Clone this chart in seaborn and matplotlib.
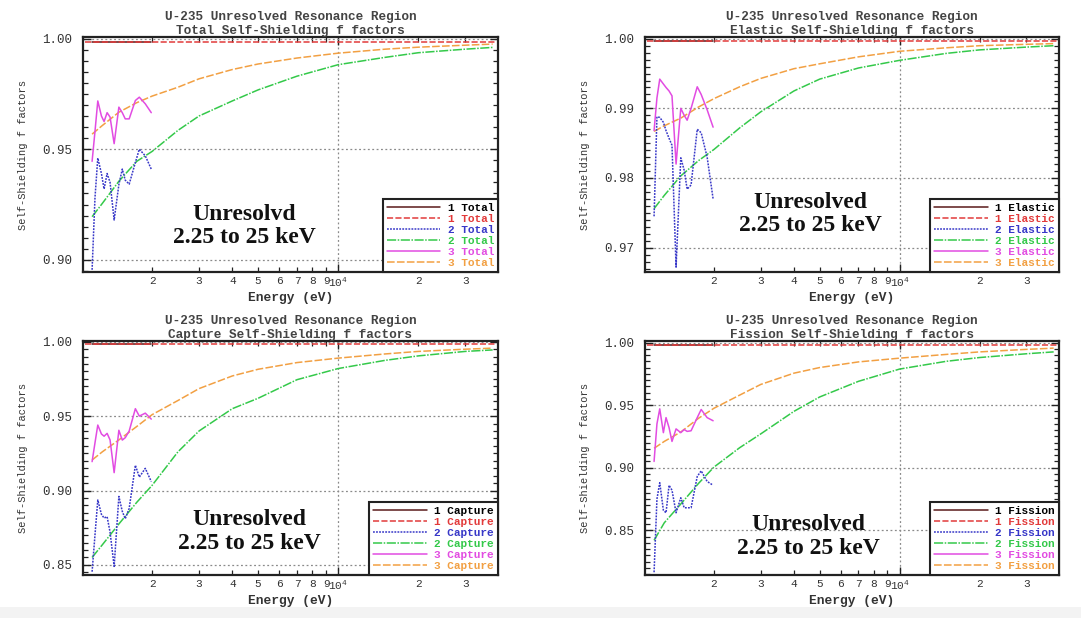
import matplotlib
matplotlib.use("Agg")
import matplotlib.pyplot as plt
import seaborn as sns
import numpy as np
from matplotlib.ticker import FixedLocator, MultipleLocator, FuncFormatter, FormatStrFormatter
from matplotlib.patches import Rectangle

# ---------------- data ----------------
E_RES = [1190, 1220, 1250, 1290, 1320, 1355, 1390, 1440, 1500, 1545, 1585, 1640, 1730, 1790, 1885, 1985]
E_SMOOTH = [1190, 1300, 1500, 1750, 2000, 2500, 3000, 4000, 5000, 7000, 10000, 15000, 20000, 30000, 38000]
E_FLAT = [1120, 39000]
E_BLACK = [1190, 1985]

# Total
total_1 = [0.9984, 0.9984]
total_2_res = [0.8955, 0.928, 0.946, 0.939, 0.932, 0.939, 0.935, 0.918, 0.934, 0.941, 0.936, 0.9342, 0.944, 0.950, 0.947, 0.941]
total_3_res = [0.9445, 0.958, 0.9718, 0.9650, 0.9625, 0.9665, 0.9645, 0.9525, 0.9690, 0.9665, 0.9637, 0.9637, 0.9720, 0.9735, 0.9705, 0.9665]
total_2_smooth = [0.9195, 0.9255, 0.9355, 0.9445, 0.949, 0.9585, 0.965, 0.9718, 0.9768, 0.9830, 0.9882, 0.9915, 0.9936, 0.9952, 0.9960]
total_3_smooth = [0.9568, 0.9607, 0.9667, 0.971, 0.974, 0.978, 0.9818, 0.986, 0.9885, 0.9912, 0.9934, 0.9952, 0.9961, 0.9970, 0.9975]

# Elastic
elastic_1 = [0.9997, 0.9997]
elastic_2_res = [0.9745, 0.9888, 0.9887, 0.9880, 0.9868, 0.9857, 0.9847, 0.9672, 0.9829, 0.9811, 0.9784, 0.9790, 0.9870, 0.9865, 0.9830, 0.9770]
elastic_3_res = [0.9868, 0.9915, 0.9942, 0.9935, 0.9930, 0.9925, 0.9918, 0.9820, 0.9900, 0.9890, 0.9883, 0.9900, 0.9931, 0.9920, 0.9898, 0.9873]
elastic_2_smooth = [0.9756, 0.9775, 0.9803, 0.9825, 0.9841, 0.9872, 0.9895, 0.9925, 0.9942, 0.9958, 0.9969, 0.9979, 0.9984, 0.9988, 0.9990]
elastic_3_smooth = [0.9867, 0.9875, 0.9886, 0.9902, 0.9914, 0.9931, 0.9943, 0.9957, 0.9964, 0.9974, 0.9982, 0.9987, 0.9990, 0.9992, 0.9993]

# Capture
capture_1 = [0.9983, 0.9983]
capture_2_res = [0.8454, 0.870, 0.8936, 0.884, 0.8815, 0.8824, 0.872, 0.849, 0.896, 0.886, 0.881, 0.888, 0.917, 0.909, 0.9149, 0.906]
capture_3_res = [0.9194, 0.932, 0.944, 0.938, 0.9365, 0.9384, 0.934, 0.912, 0.9405, 0.9339, 0.9355, 0.940, 0.955, 0.950, 0.952, 0.948]
capture_2_smooth = [0.855, 0.8635, 0.8775, 0.892, 0.9035, 0.926, 0.940, 0.955, 0.962, 0.9745, 0.982, 0.9875, 0.9905, 0.9935, 0.9945]
capture_3_smooth = [0.9205, 0.926, 0.934, 0.943, 0.951, 0.9605, 0.9685, 0.977, 0.9815, 0.986, 0.989, 0.9918, 0.9935, 0.9950, 0.9957]

# Fission
fission_1 = [0.998, 0.998]
fission_2_res = [0.8165, 0.875, 0.888, 0.866, 0.864, 0.886, 0.882, 0.864, 0.876, 0.868, 0.868, 0.868, 0.893, 0.8975, 0.889, 0.886]
fission_3_res = [0.905, 0.935, 0.947, 0.928, 0.940, 0.932, 0.921, 0.931, 0.928, 0.9305, 0.929, 0.9295, 0.940, 0.9465, 0.940, 0.9375]
fission_2_smooth = [0.842, 0.856, 0.871, 0.8875, 0.9005, 0.916, 0.927, 0.945, 0.9565, 0.969, 0.9788, 0.985, 0.988, 0.991, 0.9925]
fission_3_smooth = [0.9155, 0.921, 0.9285, 0.9395, 0.9475, 0.958, 0.9665, 0.9755, 0.980, 0.9845, 0.9875, 0.9905, 0.9925, 0.9945, 0.9955]

REACTIONS = ["Total", "Elastic", "Capture", "Fission"]
ANNOTATIONS = ["Unresolvd\n2.25 to 25 keV", "Unresolved\n2.25 to 25 keV",
               "Unresolved\n2.25 to 25 keV", "Unresolved\n2.25 to 25 keV"]
X_MINOR_LABELED = [2000, 3000, 4000, 5000, 6000, 7000, 8000, 9000, 20000, 30000]
X_MAJOR = [10000]

# ---------------- style ----------------
sns.set_theme(style="white")
MONO = ["Liberation Mono", "DejaVu Sans Mono"]
plt.rcParams["font.family"] = MONO
plt.rcParams["mathtext.default"] = "regular"

C_BLACK = "#000000"
C_RED = "#e23a3a"
C_BLUE = "#3838c8"
C_GREEN = "#34c94a"
C_MAG = "#e24ce2"
C_ORANGE = "#f2a043"

fig = plt.figure(figsize=(10.81, 6.18), dpi=100)
fig.patches.append(Rectangle((0, 0), 1, 11 / 618, transform=fig.transFigure,
                             facecolor="#f3f3f3", edgecolor="none", zorder=-10))

W, H = 1081, 618
rects = [
    [83 / W, 1 - 272 / H, 415 / W, 235 / H],
    [645 / W, 1 - 272 / H, 414 / W, 235 / H],
    [83 / W, 1 - 575 / H, 415 / W, 234 / H],
    [645 / W, 1 - 575 / H, 414 / W, 234 / H],
]
ylims = [(0.8945, 1.0007), (0.9665, 1.00025), (0.8432, 1.0005), (0.8143, 1.0012)]
ymajors = [[0.90, 0.95, 1.00], [0.97, 0.98, 0.99, 1.00], [0.85, 0.90, 0.95, 1.00], [0.85, 0.90, 0.95, 1.00]]
yminor_steps = [0.005, 0.001, 0.005, 0.005]
ann_pos = [(0.388, 0.196), (0.40, 0.247), (0.40, 0.186), (0.395, 0.165)]

flats = [total_1, elastic_1, capture_1, fission_1]
res2 = [total_2_res, elastic_2_res, capture_2_res, fission_2_res]
res3 = [total_3_res, elastic_3_res, capture_3_res, fission_3_res]
sm2 = [total_2_smooth, elastic_2_smooth, capture_2_smooth, fission_2_smooth]
sm3 = [total_3_smooth, elastic_3_smooth, capture_3_smooth, fission_3_smooth]


def minor_fmt(v, pos):
    d = int(round(v / 10 ** np.floor(np.log10(v))))
    return str(d)


for i, name in enumerate(REACTIONS):
    ax = fig.add_axes(rects[i])
    lw = 1.1
    flat_val = flats[i][0]
    sns.lineplot(x=E_BLACK, y=[flat_val, flat_val], ax=ax, color="#5a1a1a", linewidth=1.1,
                 linestyle="-", label=f"1 {name}", estimator=None, sort=False, zorder=3)
    sns.lineplot(x=E_FLAT, y=flats[i], ax=ax, color=C_RED, linewidth=lw,
                 linestyle=(0, (4, 1.5)), label=f"1 {name}", estimator=None, sort=False, zorder=4)
    sns.lineplot(x=E_RES, y=res2[i], ax=ax, color=C_BLUE, linewidth=lw,
                 linestyle=(0, (1.2, 0.8)), label=f"2 {name}", estimator=None, sort=False, zorder=5)
    sns.lineplot(x=E_SMOOTH, y=sm2[i], ax=ax, color=C_GREEN, linewidth=lw,
                 linestyle=(0, (6, 1, 1, 1)), label=f"2 {name}", estimator=None, sort=False, zorder=4)
    sns.lineplot(x=E_RES, y=res3[i], ax=ax, color=C_MAG, linewidth=lw,
                 linestyle="-", label=f"3 {name}", estimator=None, sort=False, zorder=5)
    sns.lineplot(x=E_SMOOTH, y=sm3[i], ax=ax, color=C_ORANGE, linewidth=lw,
                 linestyle=(0, (5, 1.5)), label=f"3 {name}", estimator=None, sort=False, zorder=4)

    ax.set_xscale("log")
    ax.set_xlim(1100, 39800)
    ax.set_ylim(*ylims[i])
    ax.xaxis.set_major_locator(FixedLocator(X_MAJOR))
    ax.xaxis.set_major_formatter(FuncFormatter(lambda v, p: r"$\mathregular{10^{4}}$"))
    ax.xaxis.set_minor_locator(FixedLocator(X_MINOR_LABELED))
    ax.xaxis.set_minor_formatter(FuncFormatter(minor_fmt))
    ax.yaxis.set_major_locator(FixedLocator(ymajors[i]))
    ax.yaxis.set_minor_locator(MultipleLocator(yminor_steps[i]))
    ax.yaxis.set_major_formatter(FormatStrFormatter("%.2f"))

    ax.tick_params(axis="both", which="both", direction="in", top=True, right=True,
                   bottom=True, left=True, colors="#222222")
    ax.tick_params(axis="both", which="major", length=6, width=1.0)
    ax.tick_params(axis="both", which="minor", length=3.5, width=0.9)
    ax.tick_params(axis="y", which="major", labelsize=9, pad=8, labelcolor="#333333")
    ax.tick_params(axis="x", which="both", labelsize=8, pad=3, labelcolor="#333333")

    ax.grid(True, which="major", axis="both", linestyle=(0, (1.5, 2)), color="#8a8a8a", linewidth=0.9)
    for sp in ax.spines.values():
        sp.set_color("#222222")
        sp.set_linewidth(1.6)

    ax.set_title(f"U-235 Unresolved Resonance Region\n{name} Self-Shielding f factors",
                 fontsize=9.2, fontweight="bold", color="#444444", linespacing=1.2, pad=2)
    ax.set_xlabel("Energy (eV)", fontsize=9.3, fontweight="bold", color="#333333", labelpad=2)
    ax.set_ylabel("Self-Shielding f factors", fontsize=7.5, color="#333333", labelpad=10)

    ax.text(ann_pos[i][0], ann_pos[i][1], ANNOTATIONS[i], transform=ax.transAxes,
            ha="center", va="center", multialignment="center", fontsize=17,
            fontweight="bold", family=["Liberation Serif", "DejaVu Serif"], color="#111111",
            linespacing=1.15, zorder=6)

    handles, labels = ax.get_legend_handles_labels()
    leg = ax.legend(handles, labels, loc="lower right", borderaxespad=0.0, fancybox=False,
                    framealpha=1, edgecolor="#222222", handlelength=4.8, handletextpad=0.7,
                    labelspacing=0.1, borderpad=0.35,
                    prop={"family": MONO, "size": 8.0, "weight": "bold"})
    leg.get_frame().set_linewidth(1.5)
    leg.set_zorder(10)
    for t, c in zip(leg.get_texts(), [C_BLACK, C_RED, C_BLUE, C_GREEN, C_MAG, C_ORANGE]):
        t.set_color(c)

fig.savefig("out.png", dpi=100)
